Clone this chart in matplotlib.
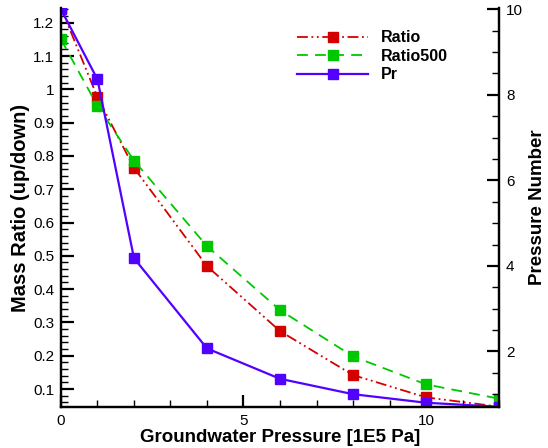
import numpy as np
import matplotlib.pyplot as plt
from matplotlib.ticker import MultipleLocator

plt.rcParams['font.family'] = ['Liberation Sans', 'DejaVu Sans']

pressure = [0, 1, 2, 4, 6, 8, 10, 12]
ratio = [1.245, 0.976, 0.764, 0.469, 0.274, 0.142, 0.075, 0.047]
ratio500 = [1.15, 0.95, 0.786, 0.529, 0.337, 0.198, 0.114, 0.071]
pr = [10.0, 8.36, 4.18, 2.07, 1.36, 1.0, 0.8, 0.705]

red = '#d40000'
green = '#00c800'
blue = '#5200ff'

fig = plt.figure(figsize=(5.48, 4.48), dpi=100)
ax = fig.add_axes([0.1113, 0.0915, 0.7993, 0.8905])
ax2 = ax.twinx()

l1, = ax.plot(pressure, ratio, color=red, lw=1.3, dashes=(6, 2, 1, 2, 1, 2),
              marker='s', ms=7, mec=red, label='Ratio')
l2, = ax.plot(pressure, ratio500, color=green, lw=1.3, dashes=(6, 4),
              marker='s', ms=7, mec=green, label='Ratio500')
l3, = ax2.plot(pressure, pr, color=blue, lw=1.6, marker='s', ms=7,
               mec=blue, label='Pr')

ax.set_xlim(0, 12)
ax.set_ylim(0.046, 1.244)
ax2.set_ylim(0.70, 10.03)

ax.xaxis.set_major_locator(MultipleLocator(5))
ax.xaxis.set_minor_locator(MultipleLocator(1))
ax.yaxis.set_major_locator(MultipleLocator(0.1))
ax.yaxis.set_minor_locator(MultipleLocator(0.02))
ax2.yaxis.set_major_locator(MultipleLocator(2))
ax2.yaxis.set_minor_locator(MultipleLocator(0.5))

ax.yaxis.set_major_formatter(plt.FuncFormatter(lambda v, p: ('%.1f' % v).rstrip('0').rstrip('.')))

for a in (ax, ax2):
    a.tick_params(which='major', direction='in', length=9, width=1.6, labelsize=11, pad=5)
    a.tick_params(which='minor', direction='in', length=5, width=1.0)
    for s in a.spines.values():
        s.set_linewidth(1.6)
    a.spines['top'].set_visible(False)
ax.tick_params(axis='y', right=False, which='both')
ax.tick_params(axis='x', top=False, which='both')

ax.set_xlabel('Groundwater Pressure [1E5 Pa]', fontsize=13.5, fontweight='bold', labelpad=1)
ax.set_ylabel('Mass Ratio (up/down)', fontsize=14.5, fontweight='bold', labelpad=2)
ax2.set_ylabel('Pressure Number', fontsize=13.5, fontweight='bold', labelpad=4)

ax2.legend(handles=[l1, l2, l3], loc='upper left', bbox_to_anchor=(0.505, 0.98),
           frameon=False, handlelength=4.5, labelspacing=0.22,
           prop={'weight': 'bold', 'size': 11.5})

fig.savefig('out.png', dpi=100)
